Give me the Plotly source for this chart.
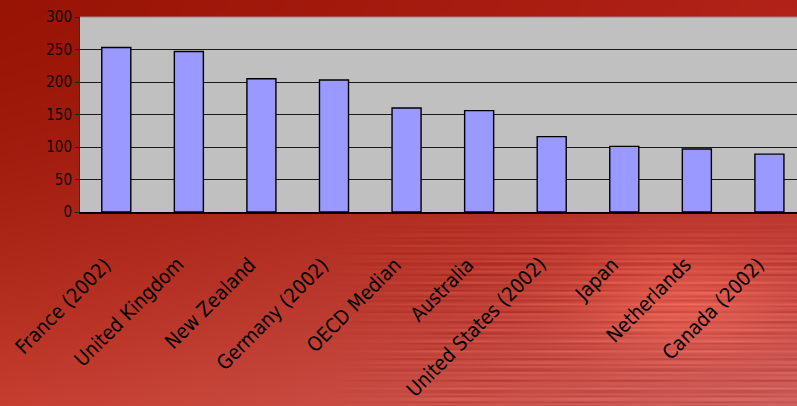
import base64
import struct
import zlib

import numpy as np
import plotly.graph_objects as go

# Data
countries = [
    "France (2002)", "United Kingdom", "New Zealand", "Germany (2002)",
    "OECD Median", "Australia", "United States (2002)", "Japan",
    "Netherlands", "Canada (2002)",
]
values = [253, 247, 205, 203, 160, 156, 116, 101, 97, 89]
y_ticks = [0, 50, 100, 150, 200, 250, 300]

W, H = 797, 406
ML, MR, MT, MB = 80, 0, 17, 194


def make_png(arr):
    h, w, _ = arr.shape
    raw = b"".join(b"\x00" + arr[r].tobytes() for r in range(h))

    def chunk(tag, data):
        c = struct.pack(">I", len(data)) + tag + data
        return c + struct.pack(">I", zlib.crc32(tag + data) & 0xFFFFFFFF)

    return (b"\x89PNG\r\n\x1a\n"
            + chunk(b"IHDR", struct.pack(">IIBBBBB", w, h, 8, 2, 0, 0, 0))
            + chunk(b"IDAT", zlib.compress(raw, 9))
            + chunk(b"IEND", b""))


def background():
    yy, xx = np.mgrid[0:H, 0:W].astype(float)
    fy = yy / (H - 1)
    fx = xx / (W - 1)
    top = np.array([152, 20, 5], float)
    top_r = np.array([178, 34, 24], float)
    bot = np.array([198, 62, 48], float)
    bot_r = np.array([205, 95, 92], float)
    t_col = top[None, None] * (1 - fx[..., None]) + top_r[None, None] * fx[..., None]
    b_col = bot[None, None] * (1 - fx[..., None]) + bot_r[None, None] * fx[..., None]
    g = (fy ** 1.6)[..., None]
    img = t_col * (1 - g) + b_col * g
    # streaked band in the lower right
    mask = np.clip((xx - 330) / 120, 0, 1) * np.clip((yy - 215) / 40, 0, 1)
    streak = (np.sin(2 * np.pi * yy / 5.3) * 0.6
              + np.sin(2 * np.pi * yy / 11.7 + 1.3) * 0.4
              + np.sin(2 * np.pi * yy / 3.1 + 0.7) * 0.25)
    streak *= 0.75 + 0.25 * np.sin(2 * np.pi * xx / 140 + yy / 9)
    img += (mask * streak * 18)[..., None] * np.array([1.0, 0.9, 0.8])
    # soft glow behind the right-hand labels
    glow = np.exp(-(((xx - 680) / 110) ** 2 + ((yy - 300) / 55) ** 2))
    img += (glow * 30)[..., None] * np.array([1.0, 0.7, 0.5])
    return np.clip(img, 0, 255).astype(np.uint8)


bg_uri = "data:image/png;base64," + base64.b64encode(make_png(background())).decode()

pw = W - ML - MR
ph = H - MT - MB

fig = go.Figure(
    go.Bar(
        x=countries,
        y=values,
        marker=dict(color="#9999FF", line=dict(color="#000000", width=1.4)),
        width=0.4,
    )
)

fig.add_layout_image(
    source=bg_uri, xref="paper", yref="paper",
    x=-ML / pw, y=1 + MT / ph, sizex=W / pw, sizey=H / ph,
    xanchor="left", yanchor="top", sizing="stretch", layer="below",
)
# grey plotting area with a thin top edge
fig.add_shape(
    type="rect", xref="paper", yref="paper", x0=0, x1=1, y0=0, y1=1,
    fillcolor="#C0C0C0", line=dict(width=0), layer="below",
)
fig.add_shape(
    type="line", xref="paper", yref="paper", x0=0, x1=1, y0=1, y1=1,
    line=dict(color="#8a8a8a", width=1), layer="below",
)

# slanted category labels under each bar
for name in countries:
    fig.add_annotation(
        x=name, y=0, xref="x", yref="paper", text=name,
        textangle=-45, xanchor="right", yanchor="top",
        yshift=-38, xshift=2, showarrow=False,
        font=dict(size=20, color="#000000"),
    )

fig.update_layout(
    width=W, height=H, autosize=False,
    margin=dict(l=ML, r=MR, t=MT, b=MB),
    paper_bgcolor="#a01a0c", plot_bgcolor="#C0C0C0",
    showlegend=False,
    font=dict(family="DejaVu Sans Condensed, sans-serif", color="#000000"),
)
fig.update_xaxes(
    range=[-0.5, 9.38], ticks="", showticklabels=False,
    automargin=False,
    showline=True, linecolor="#000000", linewidth=1.5,
    showgrid=False,
)
fig.update_yaxes(
    range=[0, 300], tickvals=y_ticks, ticks="outside", ticklen=4,
    tickcolor="#202020", tickfont=dict(size=15, color="#140400"),
    showgrid=True, gridcolor="#1a1a1a", gridwidth=1,
    showline=True, linecolor="#303030", linewidth=1,
    zeroline=False, automargin=False,
)

fig.write_html("out.html")
